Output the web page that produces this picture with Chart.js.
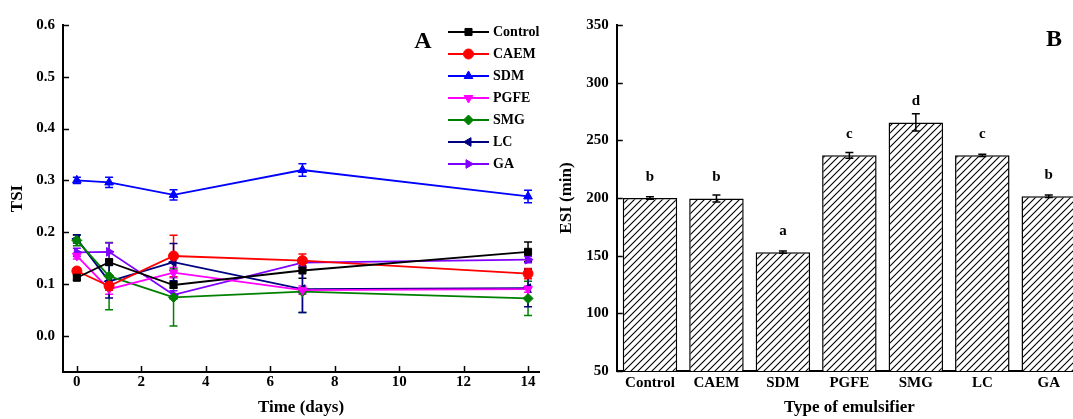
<!DOCTYPE html>
<html>
<head>
<meta charset="utf-8">
<script src="https://cdn.jsdelivr.net/npm/chart.js"></script>
<style>
  html, body { margin: 0; padding: 0; background: #fff; overflow: hidden; }
  #wrap { position: relative; width: 1073px; height: 419px; overflow: hidden; }
  #chartA { position: absolute; left: 0; top: 0; }
  #chartB { position: absolute; left: 540px; top: 0; }
</style>
</head>
<body>
<div id="wrap">
  <canvas id="chartA" width="545" height="419"></canvas>
  <canvas id="chartB" width="545" height="419"></canvas>
</div>
<script>
// ---- panel A data (TSI over storage time) ----
const days = [0, 1, 3, 7, 14];
const dayTicks = [0, 2, 4, 6, 8, 10, 12, 14];
const tsiTicks = [0, 0.1, 0.2, 0.3, 0.4, 0.5, 0.6];

const seriesNames = ['Control', 'CAEM', 'SDM', 'PGFE', 'SMG', 'LC', 'GA'];
const seriesColors = ['#000000', '#ff0000', '#0000ff', '#ff00ff', '#008000', '#000080', '#8000ff'];
const seriesShapes = ['rect', 'circle', 'triangle', 'triangle', 'rectRot', 'triangle', 'triangle'];
const seriesRotations = [0, 0, 0, 180, 0, -90, 90];

const controlTSI = [0.112, 0.142, 0.098, 0.126, 0.162];
const caemTSI    = [0.125, 0.096, 0.154, 0.145, 0.120];
const sdmTSI     = [0.300, 0.296, 0.272, 0.320, 0.269];
const pgfeTSI    = [0.154, 0.090, 0.122, 0.088, 0.090];
const smgTSI     = [0.184, 0.115, 0.074, 0.085, 0.072];
const lcTSI      = [0.187, 0.105, 0.142, 0.090, 0.092];
const gaTSI      = [0.161, 0.162, 0.079, 0.141, 0.147];

const controlErr = [0.005, 0.006, 0.006, 0.015, 0.019];
const caemErr    = [0.006, 0.008, 0.040, 0.013, 0.010];
const sdmErr     = [0.006, 0.010, 0.010, 0.012, 0.012];
const pgfeErr    = [0.006, 0.010, 0.010, 0.008, 0.006];
const smgErr     = [0.010, 0.065, 0.055, 0.040, 0.033];
const lcErr      = [0.008, 0.032, 0.036, 0.045, 0.036];
const gaErr      = [0.008, 0.017, 0.008, 0.008, 0.006];

const tsiValues = [controlTSI, caemTSI, sdmTSI, pgfeTSI, smgTSI, lcTSI, gaTSI];
const tsiErrors = [controlErr, caemErr, sdmErr, pgfeErr, smgErr, lcErr, gaErr];

// ---- panel B data (ESI per emulsifier) ----
const emulsifiers = ['Control', 'CAEM', 'SDM', 'PGFE', 'SMG', 'LC', 'GA'];
const esiValues = [200, 199.5, 153, 237, 265.5, 237, 201.5];
const esiErrors = [1, 3, 1, 2.5, 7.5, 1, 1];
const esiLetters = ['b', 'b', 'a', 'c', 'd', 'c', 'b'];
const esiTicks = [50, 100, 150, 200, 250, 300, 350];

const serif = '"Liberation Serif", "Times New Roman", serif';
const tickFont = { family: serif, weight: 'bold', size: 15 };
const titleFont = { family: serif, weight: 'bold', size: 17 };

// inward tick marks on the chosen axes
const inTicks = {
  id: 'inTicks',
  afterDraw(chart, args, opts) {
    const ctx = chart.ctx;
    const area = chart.chartArea;
    ctx.save();
    ctx.strokeStyle = '#000';
    ctx.lineWidth = 1.5;
    (opts.axes || []).forEach(id => {
      const s = chart.scales[id];
      s.ticks.forEach(t => {
        const p = Math.round(s.getPixelForValue(t.value)) + 0.5;
        ctx.beginPath();
        if (s.isHorizontal()) {
          ctx.moveTo(p, area.bottom);
          ctx.lineTo(p, area.bottom - opts.len);
        } else {
          ctx.moveTo(area.left, p);
          ctx.lineTo(area.left + opts.len, p);
        }
        ctx.stroke();
      });
    });
    ctx.restore();
  }
};

// error bars for the line chart
const lineErrors = {
  id: 'lineErrors',
  beforeDatasetsDraw(chart) {
    const ctx = chart.ctx;
    const ys = chart.scales.y;
    ctx.save();
    chart.data.datasets.forEach((ds, i) => {
      const meta = chart.getDatasetMeta(i);
      ctx.strokeStyle = ds.borderColor;
      ctx.lineWidth = 1.5;
      meta.data.forEach((pt, j) => {
        const v = tsiValues[i][j], e = tsiErrors[i][j];
        const y1 = ys.getPixelForValue(v + e), y2 = ys.getPixelForValue(v - e);
        ctx.beginPath();
        ctx.moveTo(pt.x, y1); ctx.lineTo(pt.x, y2);
        ctx.moveTo(pt.x - 4, y1); ctx.lineTo(pt.x + 4, y1);
        ctx.moveTo(pt.x - 4, y2); ctx.lineTo(pt.x + 4, y2);
        ctx.stroke();
      });
    });
    ctx.restore();
  }
};

const legendA = {
  id: 'legendA',
  afterDraw(chart) {
    const ctx = chart.ctx;
    ctx.save();
    ctx.font = 'bold 14px ' + serif;
    ctx.textBaseline = 'middle';
    chart.data.datasets.forEach((ds, i) => {
      const y = 32 + i * 22;
      ctx.strokeStyle = ds.borderColor;
      ctx.fillStyle = ds.borderColor;
      ctx.lineWidth = 2;
      ctx.beginPath();
      ctx.moveTo(448, y); ctx.lineTo(489, y);
      ctx.stroke();
      ctx.lineWidth = 1;
      Chart.helpers.drawPoint(ctx, {
        pointStyle: ds.pointStyle, rotation: ds.pointRotation, radius: 5, borderWidth: 1
      }, 468.5, y);
      ctx.fillStyle = '#000';
      ctx.fillText(ds.label, 493, y);
    });
    ctx.font = 'bold 24px ' + serif;
    ctx.textAlign = 'center';
    ctx.fillText('A', 423, 42);
    ctx.restore();
  }
};

new Chart(document.getElementById('chartA'), {
  type: 'line',
  data: {
    datasets: seriesNames.map((name, i) => ({
      label: name,
      data: days.map((d, j) => ({ x: d, y: tsiValues[i][j] })),
      borderColor: seriesColors[i],
      backgroundColor: seriesColors[i],
      pointBackgroundColor: seriesColors[i],
      pointBorderColor: seriesColors[i],
      pointStyle: seriesShapes[i],
      pointRotation: seriesRotations[i],
      pointRadius: 5,
      pointBorderWidth: 1,
      borderWidth: 1.8,
      tension: 0,
      fill: false
    }))
  },
  options: {
    responsive: false,
    animation: false,
    devicePixelRatio: 1,
    layout: { padding: { top: 25, right: 2, left: 0, bottom: 0 } },
    plugins: {
      legend: { display: false },
      tooltip: { enabled: false },
      inTicks: { axes: ['x', 'y'], len: 6 }
    },
    scales: {
      x: {
        type: 'linear',
        min: -0.43,
        max: 14.34,
        afterBuildTicks: s => { s.ticks = dayTicks.map(v => ({ value: v })); },
        afterFit: s => { s.height = 47; },
        grid: { display: false, drawTicks: false },
        border: { display: true, color: '#000', width: 2 },
        ticks: { color: '#000', font: tickFont, padding: 1, maxRotation: 0 },
        title: { display: true, text: 'Time (days)', color: '#000', font: titleFont, padding: { top: 0, bottom: 1 } }
      },
      y: {
        min: -0.07,
        max: 0.6,
        afterBuildTicks: s => { s.ticks = tsiTicks.map(v => ({ value: v })); },
        afterFit: s => { s.width = 63; },
        grid: { display: false, drawTicks: false },
        border: { display: true, color: '#000', width: 2 },
        ticks: { color: '#000', font: tickFont, padding: 8, callback: v => v.toFixed(1) },
        title: { display: true, text: 'TSI', color: '#000', font: titleFont, padding: { top: 7, bottom: 0 } }
      }
    }
  },
  plugins: [inTicks, lineErrors, legendA]
});

// hatch pattern for the bars
function hatch() {
  const s = 7;
  const c = document.createElement('canvas');
  c.width = s; c.height = s;
  const g = c.getContext('2d');
  g.fillStyle = '#fff';
  g.fillRect(0, 0, s, s);
  g.strokeStyle = '#000';
  g.lineWidth = 1.1;
  g.beginPath();
  g.moveTo(0, s); g.lineTo(s, 0);
  g.moveTo(-1, 1); g.lineTo(1, -1);
  g.moveTo(s - 1, s + 1); g.lineTo(s + 1, s - 1);
  g.stroke();
  return g.createPattern(c, 'repeat');
}

const barExtras = {
  id: 'barExtras',
  afterDatasetsDraw(chart) {
    const ctx = chart.ctx;
    const ys = chart.scales.y;
    const meta = chart.getDatasetMeta(0);
    ctx.save();
    ctx.strokeStyle = '#000';
    ctx.fillStyle = '#000';
    ctx.lineWidth = 1.5;
    ctx.font = 'bold 15px ' + serif;
    ctx.textAlign = 'center';
    ctx.textBaseline = 'middle';
    meta.data.forEach((bar, i) => {
      const v = esiValues[i], e = esiErrors[i];
      const y1 = ys.getPixelForValue(v + e), y2 = ys.getPixelForValue(v - e);
      ctx.beginPath();
      ctx.moveTo(bar.x, y1); ctx.lineTo(bar.x, y2);
      ctx.moveTo(bar.x - 4, y1); ctx.lineTo(bar.x + 4, y1);
      ctx.moveTo(bar.x - 4, y2); ctx.lineTo(bar.x + 4, y2);
      ctx.stroke();
      ctx.fillText(esiLetters[i], bar.x, bar.y - 21);
    });
    ctx.font = 'bold 24px ' + serif;
    ctx.fillText('B', 514, 40);
    ctx.restore();
  }
};

new Chart(document.getElementById('chartB'), {
  type: 'bar',
  data: {
    labels: emulsifiers,
    datasets: [{
      label: 'ESI',
      data: esiValues,
      base: 50,
      backgroundColor: hatch(),
      borderColor: '#000',
      borderWidth: 1.5,
      barPercentage: 0.82,
      categoryPercentage: 1
    }]
  },
  options: {
    responsive: false,
    animation: false,
    devicePixelRatio: 1,
    layout: { padding: { top: 25, right: 3, left: 0, bottom: 0 } },
    plugins: {
      legend: { display: false },
      tooltip: { enabled: false },
      inTicks: { axes: ['y'], len: 6 }
    },
    scales: {
      x: {
        afterFit: s => { s.height = 48; },
        grid: { display: false, drawTicks: false },
        border: { display: true, color: '#000', width: 2 },
        ticks: { color: '#000', font: tickFont, padding: 3, maxRotation: 0 },
        title: { display: true, text: 'Type of emulsifier', color: '#000', font: titleFont, padding: { top: 0, bottom: 1 } }
      },
      y: {
        min: 50,
        max: 350,
        afterBuildTicks: s => { s.ticks = esiTicks.map(v => ({ value: v })); },
        afterFit: s => { s.width = 76.75; },
        grid: { display: false, drawTicks: false },
        border: { display: true, color: '#000', width: 2 },
        ticks: { color: '#000', font: tickFont, padding: 8 },
        title: { display: true, text: 'ESI (min)', color: '#000', font: titleFont, padding: { top: 16, bottom: 0 } }
      }
    }
  },
  plugins: [inTicks, barExtras]
});
</script>
</body>
</html>
